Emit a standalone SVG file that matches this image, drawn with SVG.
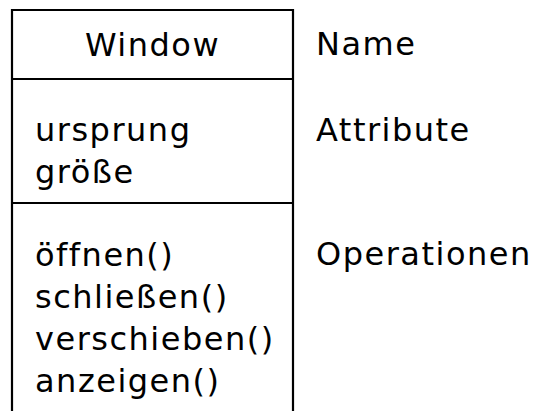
<svg xmlns="http://www.w3.org/2000/svg" width="536" height="411" viewBox="0 0 536 411">
  <style>
    .frame { fill: none; stroke: #000; stroke-width: 2.2; }
    .t { font-family: "DejaVu Sans", Verdana, sans-serif; font-size: 32px; fill: #000; letter-spacing: 1.5px; }
  </style>
  <rect width="536" height="411" fill="#fff"/>
  <!-- class box: open at the bottom, runs past the canvas -->
  <g id="class-window">
    <path class="frame" d="M12,420 V10 H293 V420"/>
    <path class="frame" d="M12,79 H293 M12,203 H293"/>
    <text class="t" x="152.5" y="56" text-anchor="middle">Window</text>
    <text class="t" x="35" y="141">ursprung</text>
    <text class="t" x="35" y="183">größe</text>
    <text class="t" x="35" y="266">öffnen()</text>
    <text class="t" x="35" y="308">schließen()</text>
    <text class="t" x="35" y="350">verschieben()</text>
    <text class="t" x="35" y="392">anzeigen()</text>
  </g>
  <!-- compartment labels -->
  <g id="labels">
    <text class="t" x="316" y="55">Name</text>
    <text class="t" x="316" y="141">Attribute</text>
    <text class="t" x="316" y="265">Operationen</text>
  </g>
</svg>
